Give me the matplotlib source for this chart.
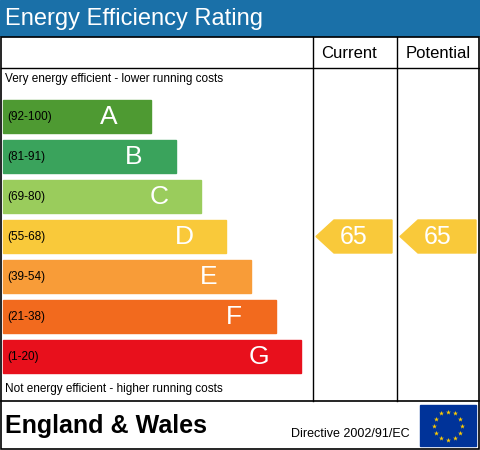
import numpy as np
import matplotlib.pyplot as plt
from matplotlib.patches import Rectangle, Polygon

bands = ["A", "B", "C", "D", "E", "F", "G"]
ranges = ["(92-100)", "(81-91)", "(69-80)", "(55-68)", "(39-54)", "(21-38)", "(1-20)"]
colors = ["#4e9a32", "#3aa35c", "#9acc5c", "#f9c93a", "#f89c38", "#f26a1e", "#e8101c"]
current = 65
potential = 65


def band_of(score):
    lows = [92, 81, 69, 55, 39, 21, 1]
    for i, lo in enumerate(lows):
        if score >= lo:
            return i
    return 6


fig = plt.figure(figsize=(4.8, 4.5), dpi=100)
ax = fig.add_axes([0, 0, 1, 1])
ax.set_xlim(0, 480)
ax.set_ylim(450, 0)
ax.axis("off")

# title bar
ax.add_patch(Rectangle((0, 0), 480, 36, color="#1a70a8"))
ax.text(5, 19, "Energy Efficiency Rating", color="white", fontsize=17,
        va="center", family="Liberation Sans")
# frame and grid
ax.add_patch(Rectangle((1, 37), 478, 412, fill=False, ec="black", lw=1.2))
ax.plot([1, 479], [68, 68], color="black", lw=1)
ax.plot([1, 479], [401, 401], color="black", lw=1.2)
for x in (313, 397):
    ax.plot([x, x], [37, 401], color="black", lw=1)
ax.text(349, 53, "Current", fontsize=12, ha="center", va="center", family="Liberation Sans")
ax.text(438, 53, "Potential", fontsize=12, ha="center", va="center", family="Liberation Sans")
ax.text(5, 79, "Very energy efficient - lower running costs", fontsize=8.5,
        va="center", family="Liberation Sans")
ax.text(5, 389, "Not energy efficient - higher running costs", fontsize=8.5,
        va="center", family="Liberation Sans")

for i, (b, r, c) in enumerate(zip(bands, ranges, colors)):
    y = 100 + 40 * i
    w = 148 + 25 * i
    ax.add_patch(Rectangle((3, y), w, 33, color=c))
    ax.text(7, y + 17, r, fontsize=8.5, va="center", family="Liberation Sans")
    ax.text(3 + w - 42, y + 17, b, fontsize=19, color="white", ha="center",
            va="center", family="Liberation Sans")


def arrow(x0, score):
    i = band_of(score)
    y = 100 + 40 * i
    pts = [(x0, y + 16.5), (x0 + 18, y), (x0 + 76, y), (x0 + 76, y + 33), (x0 + 18, y + 33)]
    ax.add_patch(Polygon(pts, color=colors[i]))
    ax.text(x0 + 38, y + 17, str(score), fontsize=18, color="white", ha="center",
            va="center", family="Liberation Sans")


arrow(316, current)
arrow(400, potential)

ax.text(5, 426, "England & Wales", fontsize=18, weight="bold", va="center",
        family="Liberation Sans")
ax.text(350, 434, "Directive 2002/91/EC", fontsize=9, ha="center", va="center",
        family="Liberation Sans")
ax.add_patch(Rectangle((420, 405), 56, 41, color="#003399"))
ang = np.linspace(0, 2 * np.pi, 13)[:-1]
ax.scatter(448 + 14 * np.cos(ang), 425.5 + 14 * np.sin(ang), marker="*", s=14,
           color="#ffcc00", lw=0)

fig.savefig("out.png", dpi=100)
